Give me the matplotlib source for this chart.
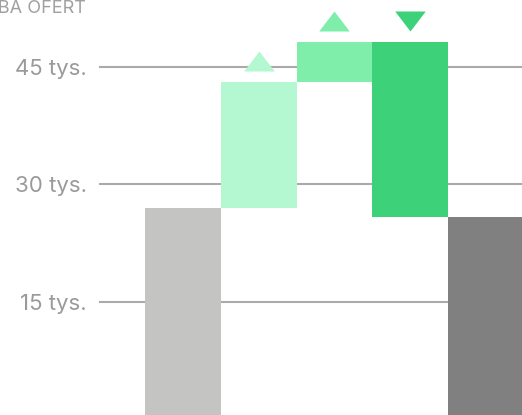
import matplotlib
matplotlib.use("Agg")
import matplotlib.pyplot as plt
import numpy as np

# waterfall data, in thousands of offers
steps = ["start", "nowe", "wzrost", "spadek", "koniec"]
starts = [0, 27.0, 43.1, 48.2, 0]
ends = [27.0, 43.1, 48.2, 25.9, 25.9]
colors = ["#c4c4c2", "#b3f8d0", "#80eeab", "#3dd27a", "#808080"]
markers = [None, "up", "up", "down", None]
ticks = [15, 30, 45]
tick_labels = ["15 tys.", "30 tys.", "45 tys."]
title = "LICZBA OFERT"

plt.rcParams["font.family"] = ["Inter", "DejaVu Sans"]

fig = plt.figure(figsize=(5.22, 4.15), dpi=100)
ax = fig.add_axes([0, 0, 1, 1])
ax.axis("off")

# map pixels -> data (crop of a bigger chart)
px_per_bar = 75.75
x0_px = 183
px_per_k = 117.5 / 15
ax.set_xlim(-x0_px / px_per_bar, (522 - x0_px) / px_per_bar)
ax.set_ylim(45 - (415 - 67) / px_per_k, 45 + 67 / px_per_k)

x = np.arange(len(steps))
bottoms = [min(s, e) for s, e in zip(starts, ends)]
heights = [abs(e - s) for s, e in zip(starts, ends)]

grid_left = (100 - x0_px) / px_per_bar
label_x = (87 - x0_px) / px_per_bar
for t, lab in zip(ticks, tick_labels):
    ax.plot([grid_left, 10], [t, t], color="#aaaaaa", lw=1.5, zorder=1)
    ax.text(label_x, t, lab, ha="right", va="center_baseline", fontsize=16,
            color="#9a9a9a")

ax.bar(x, heights, bottom=bottoms, width=1.0, color=colors, zorder=2)

tri_up = [(-1, -0.655), (1, -0.655), (0, 0.655), (-1, -0.655)]
tri_down = [(-1, 0.655), (1, 0.655), (0, -0.655), (-1, 0.655)]
for i, m in enumerate(markers):
    if m is None:
        continue
    top = max(starts[i], ends[i])
    ax.scatter([x[i]], [top + 2.7], marker=tri_up if m == "up" else tri_down,
               s=22 ** 2, color=colors[i], linewidths=0, zorder=3)

ax.text(86 / 522, 1 - 13 / 415, title, transform=fig.transFigure, ha="right",
        va="baseline", fontsize=13, color="#a0a0a0")

fig.savefig("out.png", dpi=100)
